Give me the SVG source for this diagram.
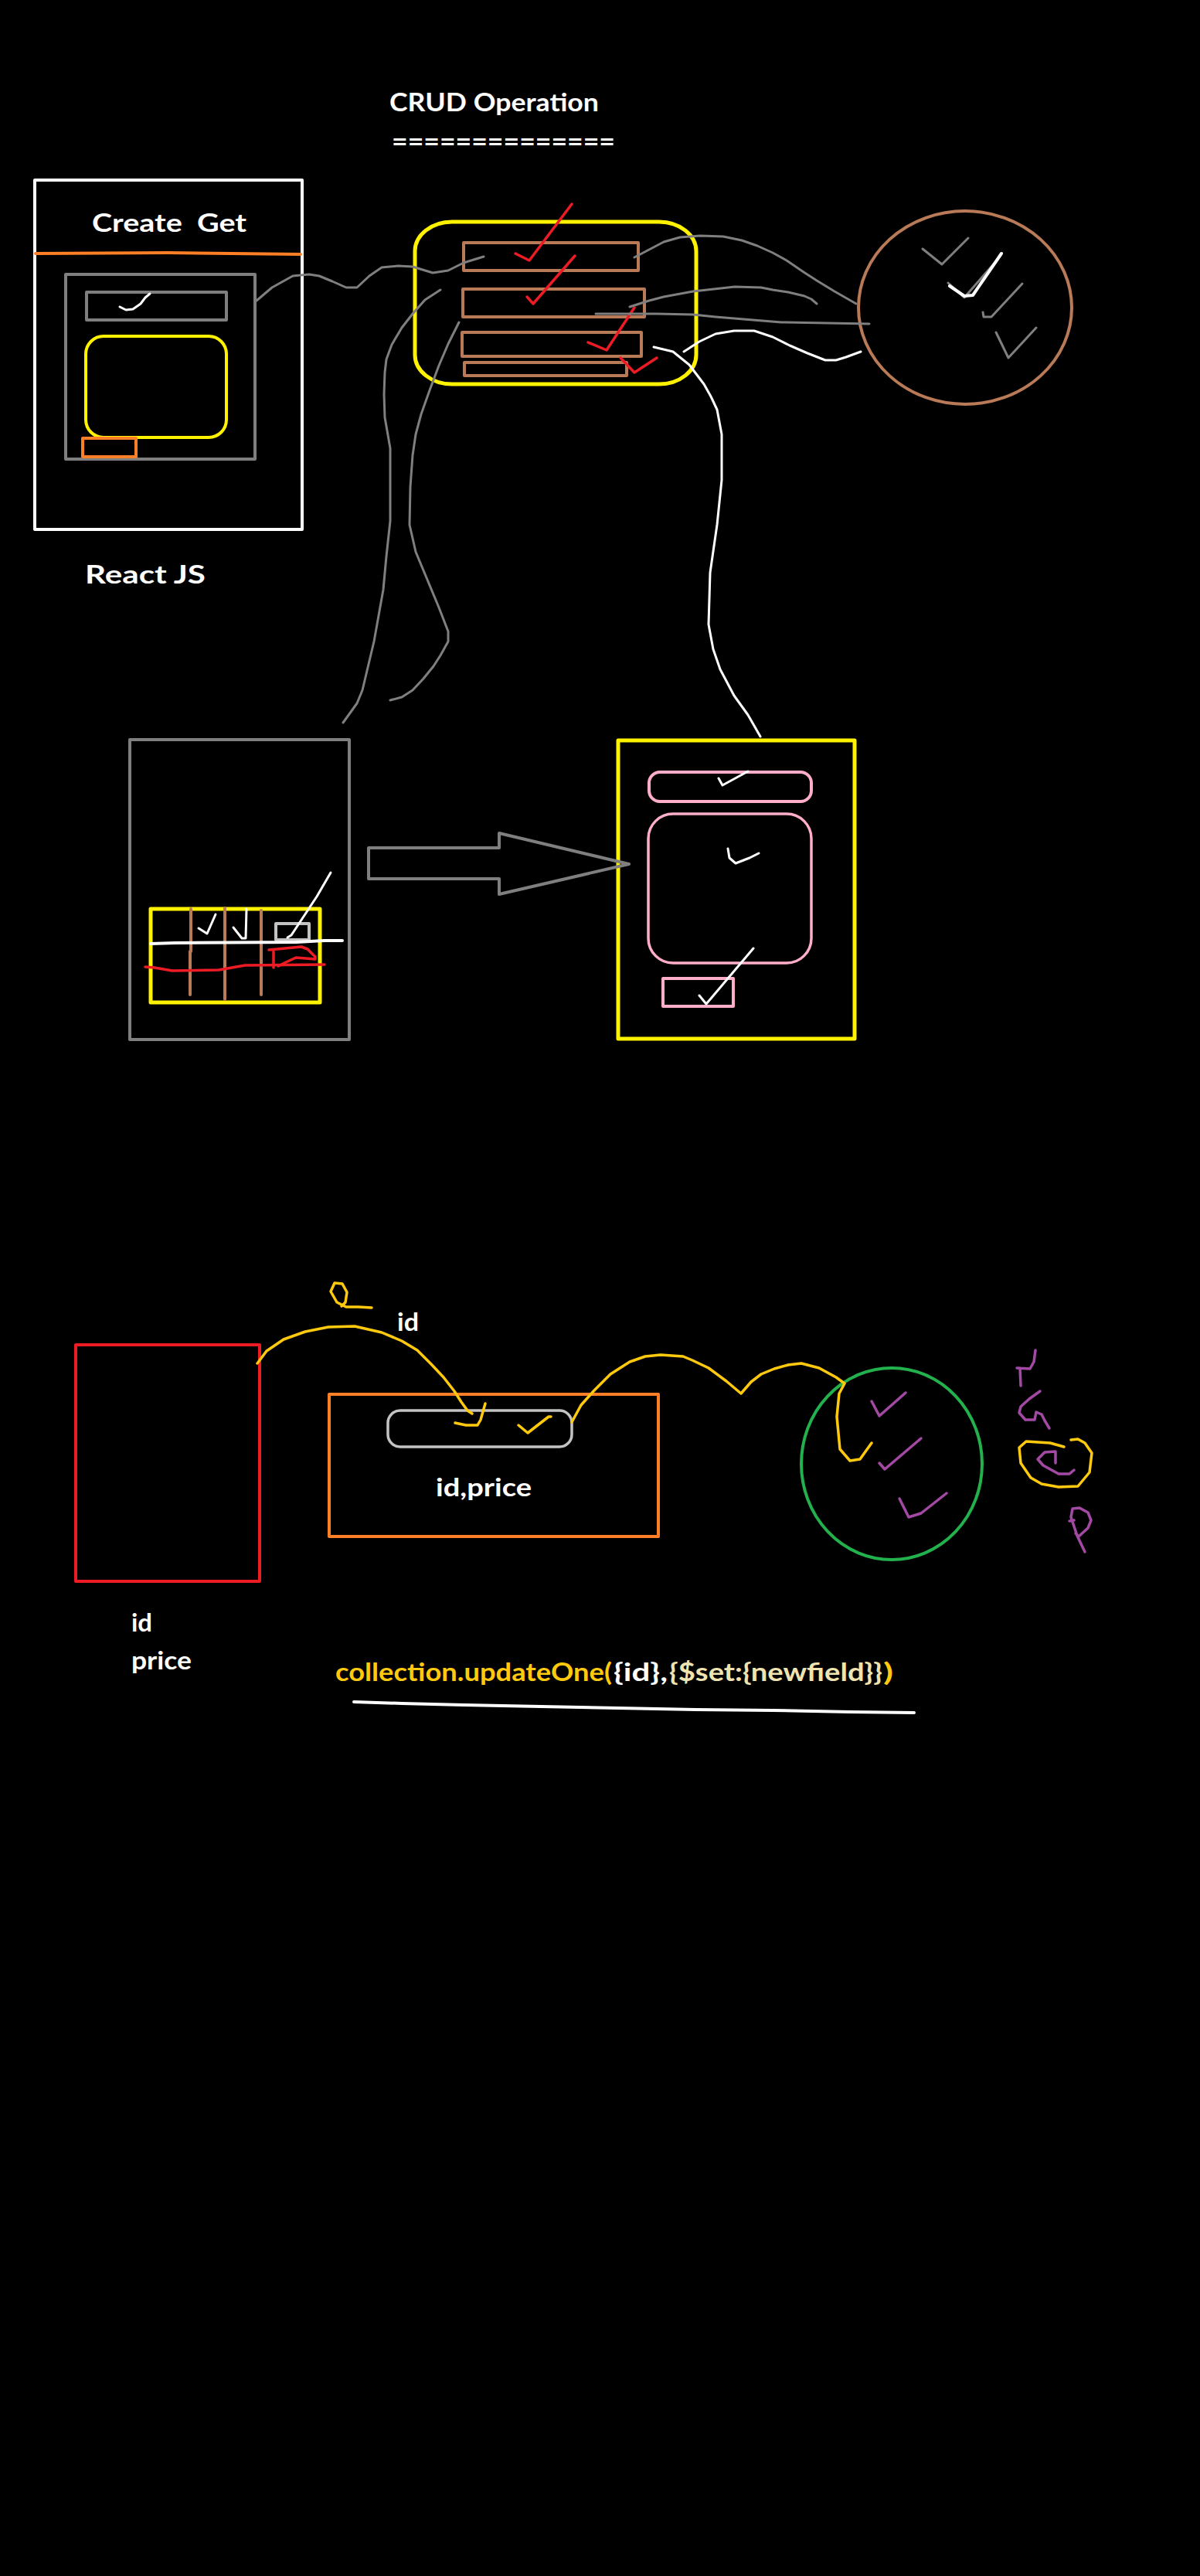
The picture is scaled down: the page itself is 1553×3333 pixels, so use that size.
<svg xmlns="http://www.w3.org/2000/svg" width="1553" height="3333" viewBox="0 0 1553 3333">
<style>
.t{font-family:Lato,"DejaVu Sans",sans-serif;font-weight:700;font-size:33px;fill:#ffffff}
.s{fill:none;stroke-linecap:round;stroke-linejoin:round}
.gray{stroke:#7f7f7f;stroke-width:3}
.wht{stroke:#ffffff;stroke-width:3}
.red{stroke:#ed1c24;stroke-width:3.5}
.gold{stroke:#ffc90e;stroke-width:3.5}
.pur{stroke:#a349a4;stroke-width:3.5}
.brn{stroke:#b97a57;stroke-width:4}
</style>
<rect x="0" y="0" width="1553" height="3333" fill="#000000"/>

<g id="title">
<text class="t" x="504" y="144" textLength="271" lengthAdjust="spacingAndGlyphs">CRUD Operation</text>
<text class="t" x="507" y="195" textLength="289" lengthAdjust="spacingAndGlyphs">==============</text>
</g>

<g id="react-app">
<rect x="45" y="233" width="346" height="452" class="s" stroke="#ffffff" stroke-width="4"/>
<text class="t" x="119" y="300" textLength="200" lengthAdjust="spacingAndGlyphs" xml:space="preserve">Create  Get</text>
<path d="M46,328 L218,327 L389,329" class="s" stroke="#ff7f27" stroke-width="4"/>
<rect x="85" y="355" width="245" height="239" class="s" stroke="#7f7f7f" stroke-width="4"/>
<rect x="112" y="378" width="181" height="36" class="s" stroke="#7f7f7f" stroke-width="4"/>
<path d="M155,397 L163,401 L172,400 L182,393 L188,385 L194,380" class="s wht"/>
<rect x="111" y="435" width="182" height="131" rx="23" class="s" stroke="#fff200" stroke-width="4"/>
<rect x="107" y="567" width="69" height="24" class="s" stroke="#ff7f27" stroke-width="4"/>
<text class="t" x="110" y="755" textLength="156" lengthAdjust="spacingAndGlyphs">React JS</text>
</g>

<g id="crud-box">
<rect x="537" y="287" width="364" height="210" rx="48" ry="38" class="s" stroke="#fff200" stroke-width="5"/>
<rect x="600" y="314" width="226" height="36" class="s brn"/>
<rect x="599" y="374" width="235" height="36" class="s brn"/>
<rect x="598" y="430" width="232" height="31" class="s brn"/>
<rect x="601" y="469" width="210" height="17" class="s brn"/>
<path d="M667,328 L685,337 L740,264" class="s red"/>
<path d="M682,384 L690,393 L744,331" class="s red"/>
<path d="M761,443 L785,453 L821,398" class="s red"/>
<path d="M803,463 L821,482 L850,463" class="s red"/>
</g>

<g id="database">
<ellipse cx="1249" cy="398" rx="138" ry="125" class="s" stroke="#b97a57" stroke-width="4"/>
<path d="M1194,322 L1219,342 L1253,308" class="s gray"/>
<path d="M1227,366 L1248,385 L1290,337" class="s gray"/>
<path d="M1229,370 L1248,383 L1259,382 L1296,328" class="s" stroke="#ffffff" stroke-width="4"/>
<path d="M1272,404 L1273,410 L1283,410 L1323,367" class="s gray"/>
<path d="M1289,430 L1305,463 L1341,424" class="s gray"/>
</g>

<g id="list-page">
<rect x="168" y="957" width="284" height="388" class="s" stroke="#7f7f7f" stroke-width="4"/>
<rect x="195" y="1176" width="219" height="121" class="s" stroke="#fff200" stroke-width="5"/>
<path d="M247,1176 L247,1231 M246,1231 L246,1287" class="s brn"/>
<path d="M291,1175 L291,1293" class="s brn"/>
<path d="M338,1178 L338,1287" class="s brn"/>
<path d="M257,1201 L268,1208 L279,1183" class="s wht"/>
<path d="M302,1200 L313,1214 L318,1214 L319,1176" class="s wht"/>
<rect x="357" y="1195" width="43" height="21" class="s" stroke="#c3c3c3" stroke-width="4"/>
<path d="M195,1221 L227,1220 L383,1219 L420,1217 L443,1217" class="s" stroke="#ffffff" stroke-width="4"/>
<path d="M372,1213 L377,1210 L410,1160 L428,1129" class="s wht"/>
<path d="M188,1251 L200,1252 L223,1256 L283,1255 L317,1249 L420,1248" class="s red"/>
<path d="M354,1231 L354,1252 M348,1229 L390,1225 L398,1228 L408,1238 L408,1241 L383,1239 L370,1245 L360,1250" class="s red"/>
</g>

<g id="detail-page">
<rect x="800" y="958" width="306" height="386" class="s" stroke="#fff200" stroke-width="5"/>
<rect x="840" y="999" width="210" height="38" rx="14" class="s" stroke="#ffaec9" stroke-width="4"/>
<rect x="839" y="1053" width="211" height="193" rx="32" class="s" stroke="#ffaec9" stroke-width="3.5"/>
<rect x="858" y="1266" width="91" height="36" class="s" stroke="#ffaec9" stroke-width="4"/>
<path d="M930,1007 L935,1016 L968,998" class="s wht"/>
<path d="M942,1098 L944,1110 L952,1117 L970,1110 L982,1104" class="s wht"/>
<path d="M905,1288 L914,1299 L975,1227" class="s wht"/>
</g>

<g id="arrow">
<polygon points="477,1097 646,1097 646,1078 814,1118 646,1157 646,1137 477,1137" class="s" stroke="#7f7f7f" stroke-width="4"/>
</g>

<g id="form-box">
<rect x="98" y="1740" width="238" height="306" class="s" stroke="#ed1c24" stroke-width="4"/>
<text class="t" x="170" y="2111" textLength="27" lengthAdjust="spacingAndGlyphs">id</text>
<text class="t" x="170" y="2160" textLength="78" lengthAdjust="spacingAndGlyphs">price</text>
</g>

<g id="product-box">
<rect x="426" y="1804" width="426" height="184" class="s" stroke="#ff7f27" stroke-width="4"/>
<rect x="502" y="1825" width="238" height="47" rx="16" class="s" stroke="#c3c3c3" stroke-width="3.5"/>
<text class="t" x="564" y="1936" textLength="124" lengthAdjust="spacingAndGlyphs">id,price</text>
<path d="M671,1844 L683,1854 L710,1833 L713,1833" class="s gold"/>
</g>

<g id="mongo">
<ellipse cx="1154" cy="1894" rx="117" ry="124" class="s" stroke="#22b14c" stroke-width="4"/>
<path d="M1128,1813 L1138,1832 L1172,1802" class="s pur"/>
<path d="M1138,1893 L1145,1901 L1192,1861" class="s pur"/>
<path d="M1164,1939 L1176,1963 L1192,1958 L1225,1932" class="s pur"/>
</g>

<g id="scribbles">
<path d="M1321,1793 L1320,1770 M1316,1770 L1333,1771 L1338,1762 L1340,1747" class="s pur"/>
<path d="M1346,1800 L1332,1810 L1321,1820 L1319,1828 L1327,1837 L1339,1837 L1341,1827 L1348,1830 L1352,1838 L1358,1848" class="s pur"/>
<path d="M1377,1872 L1359,1867 L1328,1865 L1319,1873 L1321,1893 L1334,1912 L1348,1920 L1370,1924 L1395,1923 L1410,1905 L1413,1880 L1404,1867 L1395,1862 L1386,1863" class="s gold"/>
<path d="M1366,1893 L1366,1878 L1352,1879 L1343,1888 L1350,1896 L1370,1907 L1384,1907 L1390,1902" class="s pur"/>
<path d="M1404,2008 L1394,1987 L1386,1963 L1388,1952 L1397,1951 L1408,1957 L1412,1967 L1408,1977 L1396,1988 L1392,1984 M1384,1968 L1390,1967" class="s pur"/>
<path d="M481,1692 L464,1691 L448,1691 L436,1685 L428,1671 L433,1660 L443,1661 L449,1672 L447,1685 L442,1690" class="s gold"/>
</g>

<g id="labels">
<text class="t" x="514" y="1722" textLength="28" lengthAdjust="spacingAndGlyphs">id</text>
<text class="t" x="434" y="2175" textLength="358" lengthAdjust="spacingAndGlyphs" fill="#ffc90e" style="fill:#ffc90e">collection.updateOne(</text>
<text class="t" x="794" y="2175" textLength="70" lengthAdjust="spacingAndGlyphs">{id},</text>
<text class="t" x="866" y="2175" textLength="276" lengthAdjust="spacingAndGlyphs" style="fill:#efe4b0">{$set:{newfield}}</text>
<text class="t" x="1143" y="2175" textLength="13" lengthAdjust="spacingAndGlyphs" style="fill:#ffc90e">)</text>
<path d="M458,2202 L520,2204 L600,2206 L700,2208 L800,2210 L900,2212 L1000,2213 L1100,2215 L1183,2216" class="s" stroke="#ffffff" stroke-width="4"/>
</g>

<g id="connectors">
<polyline points="332,389 352,372 379,357 400,355 413,357 430,364 448,372 462,372 478,357 494,346 515,344 534,345 560,353 580,350 600,340 626,332" class="s gray"/>
<polyline points="570,375 550,388 534,406 520,424 507,446 500,465 498,482 497,510 498,540 505,580 505,620 505,674 500,720 496,763 484,830 469,893 462,910 444,935" class="s gray"/>
<polyline points="594,417 580,445 568,473 556,505 545,536 538,562 534,589 531,630 530,679 538,714 553,750 568,786 580,817 580,830 570,848 561,862 548,878 534,893 520,902 505,906" class="s gray"/>
<polyline points="821,333 840,323 859,313 880,307 906,305 936,306 960,311 980,318 1000,327 1018,337 1040,352 1057,363 1080,377 1108,393" class="s gray"/>
<polyline points="815,397 840,389 859,384 897,377 951,371 985,372 1000,375 1020,378 1041,383 1050,387 1057,393" class="s gray"/>
<polyline points="771,406 850,406 897,407 926,410 1011,417 1125,419" class="s gray"/>
<polyline points="885,455 905,442 926,432 950,428 976,428 1000,436 1022,447 1045,457 1068,466 1082,466 1095,462 1114,455" class="s wht"/>
<polyline points="846,449 871,455 892,472 911,497 920,513 928,530 934,562 934,600 934,621 928,679 919,741 917,808 923,840 932,866 950,900 968,925 984,953" class="s wht"/>
<polyline points="333,1764 345,1748 367,1733 395,1723 425,1717 459,1716 494,1724 520,1735 540,1747 558,1765 574,1782 588,1800 597,1814 605,1825 611,1829" class="s gold"/>
<polyline points="589,1841 603,1844 618,1844 622,1837 628,1816" class="s gold"/>
<polyline points="740,1840 752,1818 769,1799 790,1778 815,1762 835,1755 855,1753 884,1755 896,1760 917,1770 940,1787 959,1803 972,1788 985,1778 1002,1771 1020,1766 1037,1764 1060,1770 1082,1782 1093,1790 1086,1803 1083,1833 1087,1875 1100,1890 1113,1888 1128,1867" class="s gold"/>
</g>
</svg>
